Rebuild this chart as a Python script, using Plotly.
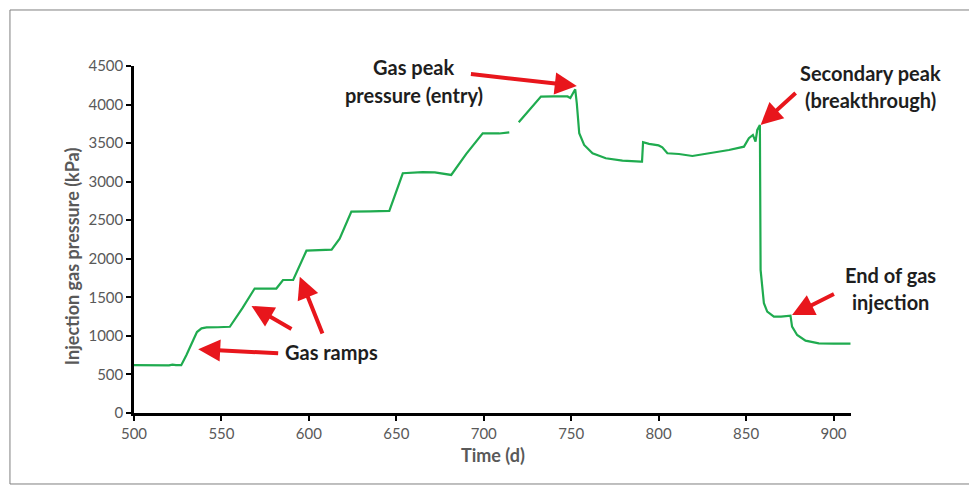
import plotly.graph_objects as go

# Injection gas pressure record
time_d = [
    500, 510, 520, 522, 524, 527, 530, 533.9, 536, 538.6, 541.5, 548, 554.8,
    562, 569, 575, 581.4, 585.2, 591, 598.6, 605, 613, 617.6, 624.3, 635, 646,
    653.7, 665, 672, 681.4, 690, 699.4, 708.9, 714.6, None,
    720, 732.7, 740, 747.9, 749.5, 752.3, 753.2, 754.6, 757.4, 762.2, 769.8,
    779.3, 789.8, 790.5, 791.1, 794.5, 800, 802.1, 805, 811.6, 819.3, 823.1,
    830.7, 840.2, 848.8, 851.6, 853.9, 855.4, 856.4, 857.9, 858.3, 859.2,
    860.2, 862.1, 865.9, 870, 875.4, 876.3, 879.2, 884, 891.6, 900, 909.7,
]
pressure_kpa = [
    620, 620, 618, 628, 620, 620, 752, 947, 1050, 1098, 1110, 1112, 1118,
    1360, 1614, 1612, 1614, 1725, 1725, 2105, 2110, 2118, 2260, 2611, 2615, 2620,
    3109, 3125, 3120, 3087, 3360, 3628, 3625, 3640, None,
    3770, 4103, 4105, 4105, 4085, 4198, 4017, 3628, 3476, 3368, 3303,
    3272, 3259, 3260, 3511, 3490, 3470, 3446, 3368, 3359, 3333, 3346,
    3376, 3411, 3454, 3563, 3606, 3519, 3671, 3735, 1855, 1638,
    1423, 1314, 1249, 1250, 1262, 1120, 1012, 938, 904, 900, 900,
]

x_ticks = [500, 550, 600, 650, 700, 750, 800, 850, 900]
y_ticks = [0, 500, 1000, 1500, 2000, 2500, 3000, 3500, 4000, 4500]

# Callouts: (tip_x, tip_y, tail_x, tail_y) in data units
arrows = [
    (536.7, 826, 583.3, 774),      # gas ramp 1
    (567.2, 1388, 590.9, 1077),    # gas ramp 2
    (594.8, 1768, 608.1, 1012),    # gas ramp 3
    (753.2, 4241, 691.8, 4397),    # gas peak pressure
    (858.3, 3735, 879.2, 4167),    # secondary peak
    (876.3, 1271, 901.1, 1552),    # end of injection
]
# label lines: (text, x, y) in paper units
labels = [
    ("Gas ramps", 0.2755, 0.1758),
    ("Gas peak", 0.3905, 0.998),
    ("pressure (entry)", 0.3905, 0.9164),
    ("Secondary peak", 1.0265, 0.979),
    ("(breakthrough)", 1.0265, 0.902),
    ("End of gas", 1.0544, 0.3977),
    ("injection", 1.0544, 0.3207),
]

GREEN = "#1fab4f"
RED = "#e8161c"
GREY = "#595959"
FONT = "Lato, 'Open Sans', sans-serif"

fig = go.Figure()
fig.add_trace(go.Scatter(
    x=time_d, y=pressure_kpa, mode="lines",
    line=dict(color=GREEN, width=2.2),
    connectgaps=False, showlegend=False,
))

annotations = []
for tx, ty, ax, ay in arrows:
    annotations.append(dict(
        x=tx, y=ty, ax=ax, ay=ay, xref="x", yref="y", axref="x", ayref="y",
        text="", showarrow=True, arrowhead=2, arrowsize=1.1,
        arrowwidth=4, arrowcolor=RED, standoff=0,
    ))
for txt, lx, ly in labels:
    annotations.append(dict(
        x=lx, y=ly, xref="paper", yref="paper", text=f"<b>{txt}</b>",
        showarrow=False, font=dict(family=FONT, size=20, color="#1e1e1e"),
        xanchor="center", yanchor="middle",
    ))

# axis titles placed to match the reference
annotations.append(dict(
    x=0.5, y=-0.122, xref="paper", yref="paper", text="<b>Time (d)</b>",
    showarrow=False, font=dict(family=FONT, size=18, color=GREY),
    xanchor="center", yanchor="middle",
))
annotations.append(dict(
    x=-0.0865, y=0.452, xref="paper", yref="paper",
    text="<b>Injection gas pressure (kPa)</b>", textangle=-90,
    showarrow=False, font=dict(family=FONT, size=18, color=GREY),
    xanchor="center", yanchor="middle",
))

fig.update_layout(
    width=969, height=479,
    margin=dict(l=126, r=126, t=58, b=74),
    paper_bgcolor="white", plot_bgcolor="white",
    font=dict(family=FONT, color=GREY),
    annotations=annotations,
    shapes=[dict(
        type="rect", xref="paper", yref="paper",
        x0=-0.173, x1=1.1702, y0=-0.2046, y1=1.1614,
        line=dict(color="#7f7f7f", width=1), layer="below",
    )],
)
fig.update_xaxes(
    range=[500, 910], tickvals=x_ticks, showgrid=False, zeroline=False,
    showline=True, linecolor="black", linewidth=2.5,
    ticks="outside", ticklen=5, tickwidth=2, tickcolor="black",
    tickfont=dict(family=FONT, size=15, color=GREY),
)
fig.update_yaxes(
    range=[0, 4500], tickvals=y_ticks, showgrid=False, zeroline=False,
    showline=True, linecolor="black", linewidth=2.5,
    ticks="outside", ticklen=5, tickwidth=2, tickcolor="black",
    tickfont=dict(family=FONT, size=15, color=GREY),
)

fig.write_html("out.html")
